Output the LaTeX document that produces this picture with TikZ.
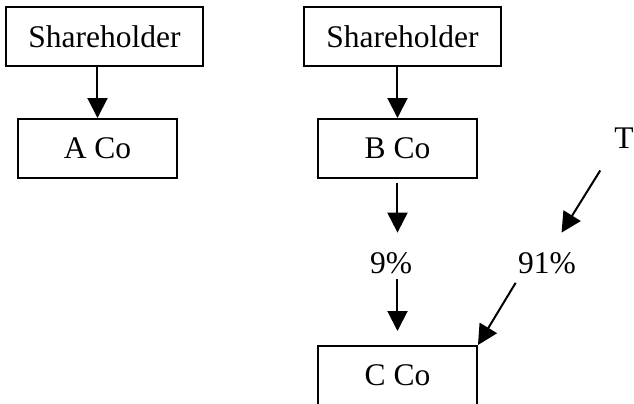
\documentclass[tikz,border=0pt]{standalone}
\usepackage{fontspec}
\setmainfont{Liberation Serif}
\usetikzlibrary{arrows.meta}

\begin{document}
\begin{tikzpicture}[x=.5pt,y=-.5pt,font=\fontsize{15.75}{19}\selectfont,
	box/.style={draw,line width=1pt,minimum height=29.5pt,inner sep=0pt},
	arr/.style={line width=1pt,-{Triangle[length=10pt,width=10pt]}},
	pct/.style={inner sep=0pt,text height=20pt,text depth=3pt}]
			\useasboundingbox (0,0) rectangle (634,403);
			\node[box,minimum width=98.5pt] (sh1) at (104.5,36.5) {Shareholder};
			\node[box,minimum width=79.5pt] (aco) at (97.5,148.5) {A Co};
			\draw[arr] (aco.north |- sh1.south) -- (aco.north);
			
			\node[box,minimum width=98.5pt] (sh2) at (402.5,36.5) {Shareholder};
			\node[box,minimum width=79.5pt] (bco) at (397.5,148.5) {B Co};
			\draw[arr] (bco.north |- sh2.south) -- (bco.north);
			
			\node[pct] (p9) at (391,256) {9\%};
			\node[pct] (p91) at (547,256) {91\%};
			\node[inner sep=0pt,anchor=base] (t) at (624,148) {T};
			\node[box,minimum width=79.5pt] (cco) at (397.5,375.5) {C Co};
			
			\draw[arr,shorten <=2pt] (bco.south) -- (bco.south |- p9.north);
			\draw[arr,shorten >=7pt] (cco.north |- p9.south) -- (cco.north);
			\draw[arr,shorten <=13pt] (t.south west) -- (p91);
			\draw[arr,shorten <=2pt] (p91.south west) -- (cco.north east);
\end{tikzpicture}
\end{document}
